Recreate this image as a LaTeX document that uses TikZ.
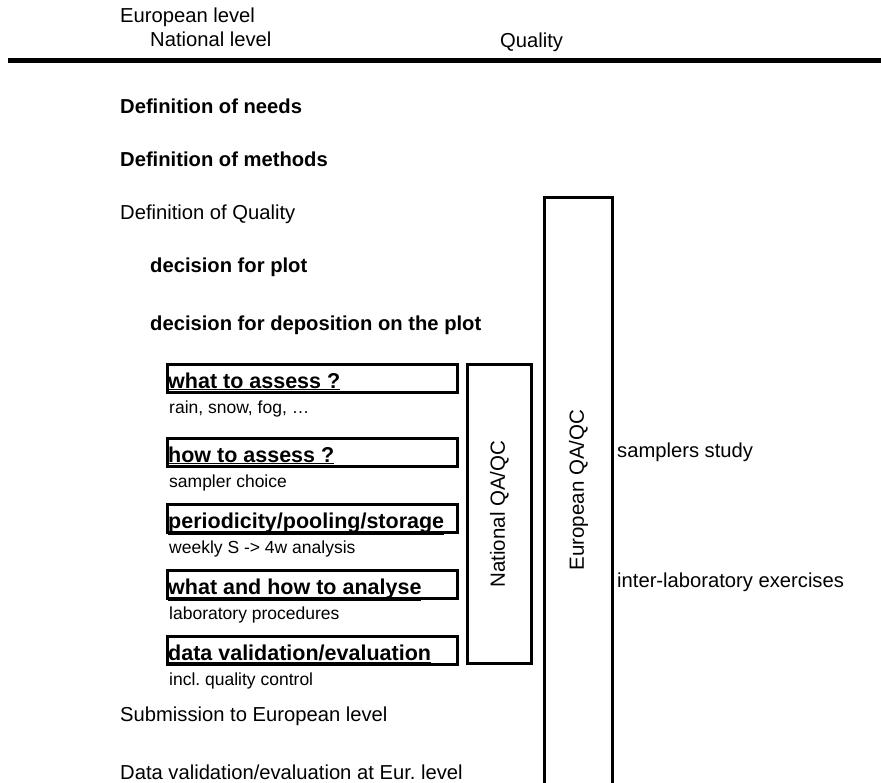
\documentclass[tikz,border=0pt]{standalone}
\usepackage{fontspec}
\setmainfont{Liberation Sans}
\usepackage{tikz}
\usetikzlibrary{positioning}
\frenchspacing

\begin{document}
\begin{tikzpicture}[
        x=1pt, y=-1pt,
        plain/.style={anchor=west, inner sep=0pt, font=\fontsize{20.2}{24}\selectfont},
        heavy/.style={plain, font=\fontsize{20.2}{24}\selectfont\bfseries},
        small/.style={anchor=west, inner sep=0pt, font=\fontsize{17.5}{20}\selectfont},
        stepbox/.style={draw=black, line width=3pt, minimum width=290pt, minimum height=28pt, anchor=north west, inner sep=0pt},
        qabox/.style={draw=black, line width=3pt, anchor=north west, inner sep=0pt},
        qalabel/.style={rotate=90, inner sep=0pt, font=\fontsize{20.5}{24}\selectfont}
        ]
        \useasboundingbox (0,0) rectangle (881,782);

        %% Header
        \node[plain] (eur) at (120,17) {European level};
        \node[plain] (nat) at (150,39) {National level};
        \node[plain] (qual) at (500,42) {Quality};
        \draw[line width=5pt] (8,60) -- (881,60);

        %% Steps
        \node[heavy] (needs) at (120,106) {Definition of needs};
        \node[heavy] (methods) at (120,159) {Definition of methods};
        \node[plain] (defqual) at (120,214) {Definition of Quality};
        \node[heavy] (plot) at (150,267) {decision for plot};
        \node[heavy] (depo) at (150,325) {decision for deposition on the plot};

% Boxes with sub-texts
        \foreach \n/\y/\head/\sub in {1/363/{what to assess ?}/{rain, snow, fog, \dots},
                                      2/437/{how to assess ?}/{sampler choice},
                                      3/503/{periodicity/pooling/storage}/{weekly S -> 4w analysis},
                                      4/569/{what and how to analyse}/{laboratory procedures},
                                      5/635/{data validation/evaluation}/{incl. quality control}} {
            \node[stepbox] (box\n) at (166,\y) {};
            \node[anchor=base west, inner sep=0pt, font=\fontsize{21.5}{24}\selectfont\bfseries] (head\n) at ([xshift=2pt, yshift=6pt]box\n.south west) {\underline{\head}};
            \node[small, below=15pt of box\n.south west, anchor=west, xshift=3pt] (sub\n) {\sub};
        }

        \node[plain] (submit) at (120,716) {Submission to European level};
        \node[plain] (evaleur) at (120,772) {Data validation/evaluation at Eur. level};

        %% QA/QC columns
        \node[qabox, minimum width=64pt, minimum height=299pt] (natqa) at (466,363) {};
        \node[qalabel] (natlab) at (natqa.center) {National QA/QC};
        \node[qabox, minimum width=68pt, minimum height=620pt] (eurqa) at (543,196) {};
        \node[qalabel] (eurlab) at (eurqa.center |- 0,490) {European QA/QC};

        \node[plain] (samplers) at (617,452) {samplers study};
        \node[plain] (interlab) at (617,582) {inter-laboratory exercises};
\end{tikzpicture}
\end{document}
